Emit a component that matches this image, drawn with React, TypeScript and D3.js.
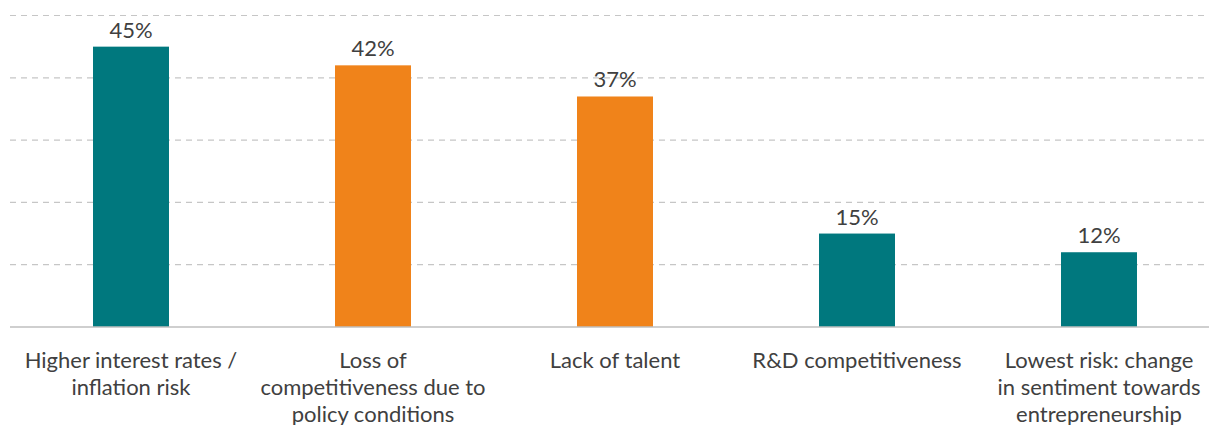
import React from "react";
import * as d3 from "d3";

const categories: string[][] = [
  ["Higher interest rates /", "inflation risk"],
  ["Loss of", "competitiveness due to", "policy conditions"],
  ["Lack of talent"],
  ["R&D competitiveness"],
  ["Lowest risk: change", "in sentiment towards", "entrepreneurship"],
];
const values = [45, 42, 37, 15, 12];
const colors = ["#00787E", "#F0831A", "#F0831A", "#00787E", "#00787E"];
const gridTicks = [10, 20, 30, 40, 50];

const W = 1209;
const H = 425;

export default function App() {
  const x = d3.scaleBand<number>().domain(values.map((_, i) => i)).range([10, 1220]).paddingInner(0.686).paddingOuter(0.343);
  const y = d3.scaleLinear().domain([0, 50]).range([327, 15.5]);
  const font = "Lato, 'Open Sans', sans-serif";
  return (
    <svg width={W} height={H} style={{ position: "absolute", left: 0, top: 0, background: "#fff" }}>
      {gridTicks.map((t) => (
        <line key={t} x1={10} x2={W} y1={y(t)} y2={y(t)} stroke="#c6c6c6" strokeWidth={1.2} strokeDasharray="6,5" />
      ))}
      {values.map((v, i) => (
        <g key={i}>
          <rect x={x(i)} y={y(v)} width={x.bandwidth()} height={y(0) - y(v)} fill={colors[i]} />
          <text x={(x(i) as number) + x.bandwidth() / 2} y={y(v) - 9} textAnchor="middle" fontFamily={font} fontSize={22} fill="#404040">
            {v}%
          </text>
        </g>
      ))}
      <line x1={10} x2={W} y1={y(0)} y2={y(0)} stroke="#bfbfbf" strokeWidth={1.5} />
      {categories.map((lines, i) => (
        <text key={i} textAnchor="middle" fontFamily={font} fontSize={22} fill="#404040">
          {lines.map((l, j) => (
            <tspan key={j} x={(x(i) as number) + x.bandwidth() / 2} y={368 + j * 27}>
              {l}
            </tspan>
          ))}
        </text>
      ))}
    </svg>
  );
}
